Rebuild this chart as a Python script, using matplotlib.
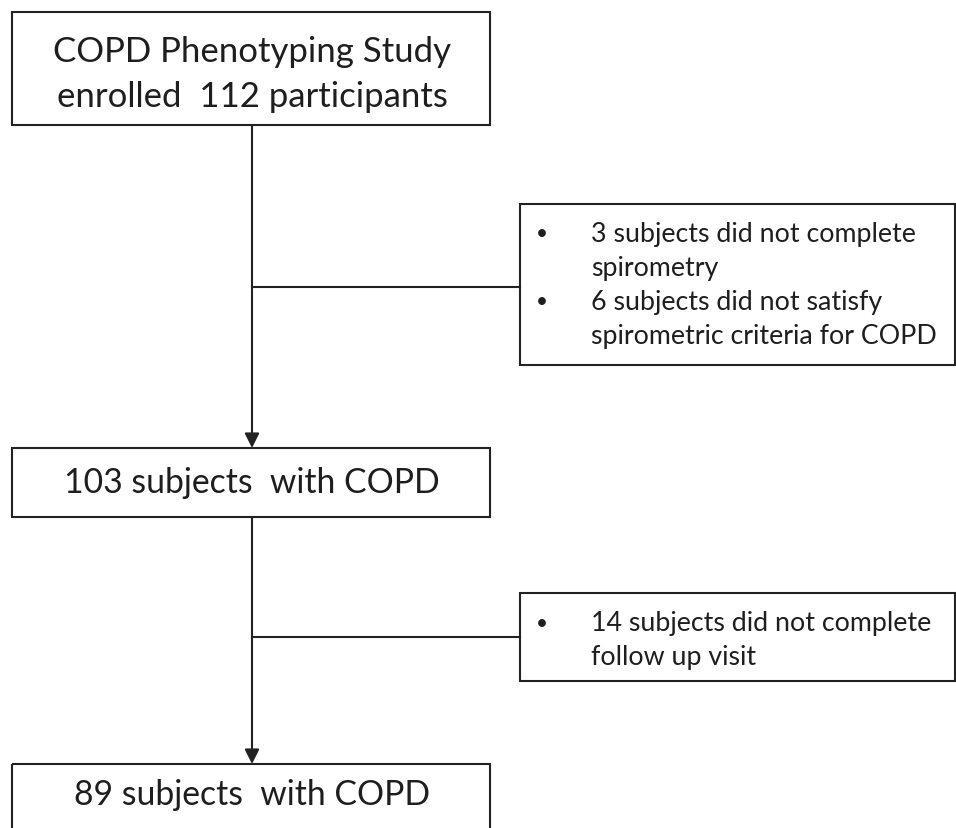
import matplotlib.pyplot as plt
from matplotlib.patches import Rectangle

plt.rcParams['font.family'] = ['Lato', 'DejaVu Sans']

# main boxes: text lines
main_text = [
    ["COPD Phenotyping Study", "enrolled  112 participants"],
    ["103 subjects  with COPD"],
    ["89 subjects  with COPD"],
]
# exclusion boxes: bullet items, each a list of lines
excl_text = [
    [["3 subjects did not complete", "spirometry"],
     ["6 subjects did not satisfy", "spirometric criteria for COPD"]],
    [["14 subjects did not complete", "follow up visit"]],
]

W, H = 956, 829
fig = plt.figure(figsize=(W / 100, H / 100), dpi=100)
ax = fig.add_axes([0, 0, 1, 1])
ax.set_xlim(0, W)
ax.set_ylim(H, 0)
ax.axis('off')

lw = 1.5
col = '#222222'
txtcol = '#1e1e1e'

# main box geometry (pixels)
bx0, bx1 = 12, 490
main_boxes = [(13, 126), (449, 518), (765, 840)]
cx = 252

for (y0, y1), lines, yc, fs in zip(main_boxes, main_text, [74, 483, 795], [25, 24.3, 24.3]):
    ax.add_patch(Rectangle((bx0, y0), bx1 - bx0, y1 - y0, fill=False,
                           ec=col, lw=lw, clip_on=False))
    n = len(lines)
    for i, s in enumerate(lines):
        yy = yc + (i - (n - 1) / 2) * 45
        ax.text(cx, yy, s, ha='center', va='center', fontsize=fs, color=txtcol)

# side boxes
sx0, sx1 = 520, 955
side_boxes = [(205, 366), (594, 682)]
branch_y = [288, 638]
first_line = [234, 624]
spacing = 34

for (y0, y1), items, by, fl in zip(side_boxes, excl_text, branch_y, first_line):
    ax.add_patch(Rectangle((sx0, y0), sx1 - sx0, y1 - y0, fill=False,
                           ec=col, lw=lw, clip_on=False))
    ax.plot([cx, sx0], [by, by], color=col, lw=lw)
    k = 0
    for item in items:
        ax.text(542, fl + k * spacing, "\u2022", ha='center', va='center',
                fontsize=15, color=txtcol)
        for s in item:
            ax.text(591, fl + k * spacing, s, ha='left', va='center',
                    fontsize=19.3, color=txtcol)
            k += 1

# arrows between main boxes
for (a0, a1), (b0, b1) in zip(main_boxes[:-1], main_boxes[1:]):
    ax.annotate('', xy=(cx, b0), xytext=(cx, a1),
                arrowprops=dict(arrowstyle='-|>', color=col, lw=lw,
                                mutation_scale=22, shrinkA=0, shrinkB=0))

fig.savefig('out.png', dpi=100, facecolor='white')
